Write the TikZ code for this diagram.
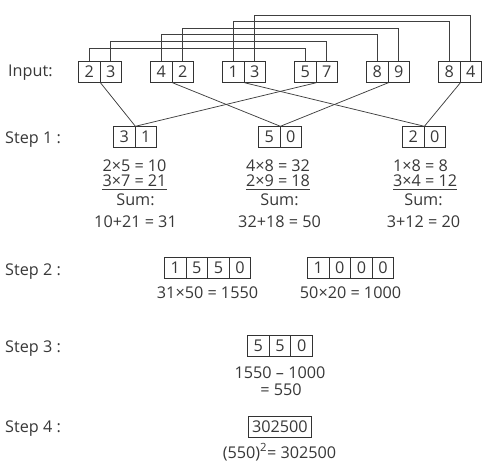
\documentclass[tikz,border=0pt]{standalone}
\usepackage{fontspec}
\setmainfont{Open Sans}
\definecolor{textc}{HTML}{383838}
\definecolor{linec}{HTML}{404040}
\definecolor{boxc}{HTML}{333333}
\begin{document}
\begin{tikzpicture}[x=1pt,y=-1pt,
  every node/.style={font=\fontsize{16.2}{18}\selectfont, text=textc},
  cell/.style={draw=boxc, line width=0.9pt, minimum width=21.5pt, minimum height=20.5pt, inner sep=0pt, anchor=west},
  cellw/.style={cell, minimum width=21.6pt, minimum height=21pt},
  lbl/.style={anchor=base west, inner sep=0pt},
  txt/.style={anchor=base, inner sep=0pt},
  conn/.style={draw=linec, line width=0.75pt}]
\useasboundingbox (0,0) rectangle (484,468);

% labels
\node[lbl] (lin) at (8,77) {Input:};
\node[lbl] (ls1) at (5,143) {Step 1 :};
\node[lbl] (ls2) at (5,275) {Step 2 :};
\node[lbl] (ls3) at (5,352) {Step 3 :};
\node[lbl] (ls4) at (5,432) {Step 4 :};

% input boxes
\node[cell] (p1a) at (78,72) {2};   \node[cell] (p1b) at (99.5,72) {3};
\node[cell] (p2a) at (150,72) {4};  \node[cell] (p2b) at (171.5,72) {2};
\node[cell] (p3a) at (222,72) {1};  \node[cell] (p3b) at (243.5,72) {3};
\node[cell] (p4a) at (294,72) {5};  \node[cell] (p4b) at (315.5,72) {7};
\node[cell] (p5a) at (366,72) {8};  \node[cell] (p5b) at (387.5,72) {9};
\node[cell] (p6a) at (438,72) {8};  \node[cell] (p6b) at (459.5,72) {4};

% brackets
\draw[conn] (p1a.north) -- (p1a.north |- 0,48) -- (p4a.north |- 0,48) -- (p4a.north);
\draw[conn] (p1b.north) -- (p1b.north |- 0,41.4) -- (p4b.north |- 0,41.4) -- (p4b.north);
\draw[conn] (p2a.north) -- (p2a.north |- 0,34.8) -- (p5a.north |- 0,34.8) -- (p5a.north);
\draw[conn] (p2b.north) -- (p2b.north |- 0,28.2) -- (p5b.north |- 0,28.2) -- (p5b.north);
\draw[conn] (p3a.north) -- (p3a.north |- 0,21.6) -- (p6a.north |- 0,21.6) -- (p6a.north);
\draw[conn] (p3b.north) -- (p3b.north |- 0,15) -- (p6b.north |- 0,15) -- (p6b.north);

% step 1 boxes
\node[cell] (s1a) at (113,137) {3};  \node[cell] (s1b) at (134.5,137) {1};
\node[cell] (s2a) at (258,137) {5};  \node[cell] (s2b) at (279.5,137) {0};
\node[cell] (s3a) at (402,137) {2};  \node[cell] (s3b) at (423.5,137) {0};

% diagonals
\draw[conn] (p1a.south east) -- (s1a.north east);
\draw[conn] (p4a.south east) -- (s1a.north east);
\draw[conn] (p2a.south east) -- (s2a.north east);
\draw[conn] (p5a.south east) -- (s2a.north east);
\draw[conn] (p3a.south east) -- (s3a.north east);
\draw[conn] (p6a.south east) -- (s3a.north east);

% step 1 texts
\node[txt] (c1a) at (134.5,171) {2×5 = 10};
\node[txt] (c1b) at (134.5,186) {3×7 = 21};
\node[txt] (c1c) at (135.5,205) {Sum:};
\node[txt] (c1d) at (135.5,227) {10+21 = 31};
\draw[conn] ([yshift=-3pt]c1b.base west) -- ([yshift=-3pt]c1b.base east);

\node[txt] (c2a) at (278,171) {4×8 = 32};
\node[txt] (c2b) at (278,186) {2×9 = 18};
\node[txt] (c2c) at (279.5,205) {Sum:};
\node[txt] (c2d) at (279.5,227) {32+18 = 50};
\draw[conn] ([yshift=-3pt]c2b.base west) -- ([yshift=-3pt]c2b.base east);

\node[txt, anchor=base west] (c3a) at (393,171) {1×8 = 8};
\node[txt, anchor=base west] (c3b) at (393,186) {3×4 = 12};
\node[txt] (c3c) at (423.5,205) {Sum:};
\node[txt] (c3d) at (423.5,227) {3+12 = 20};
\draw[conn] ([yshift=-3pt]c3b.base west) -- ([yshift=-3pt]c3b.base east);

% step 2
\node[cellw] (q1a) at (164,267.5) {1};   \node[cellw] (q1b) at (185.6,267.5) {5};
\node[cellw] (q1c) at (207.2,267.5) {5}; \node[cellw] (q1d) at (228.8,267.5) {0};
\node[cellw] (q2a) at (307,267.5) {1};   \node[cellw] (q2b) at (328.6,267.5) {0};
\node[cellw] (q2c) at (350.2,267.5) {0}; \node[cellw] (q2d) at (371.8,267.5) {0};
\node[txt] (t2a) at (207.5,298) {31×50 = 1550};
\node[txt] (t2b) at (350.5,298) {50×20 = 1000};

% step 3
\node[cell, minimum width=21.7pt] (r1) at (247,346) {5};
\node[cell, minimum width=21.7pt] (r2) at (268.7,346) {5};
\node[cell, minimum width=21.7pt] (r3) at (290.4,346) {0};
\node[txt] (t3a) at (280,378) {1550 – 1000};
\node[txt] (t3b) at (281,395) {= 550};

% step 4
\node[cell, minimum width=63pt] (f1) at (248,427) {302500};
\node[txt] (t4) at (279.5,458) {(550)\textsuperscript{2}= 302500};
\end{tikzpicture}
\end{document}
